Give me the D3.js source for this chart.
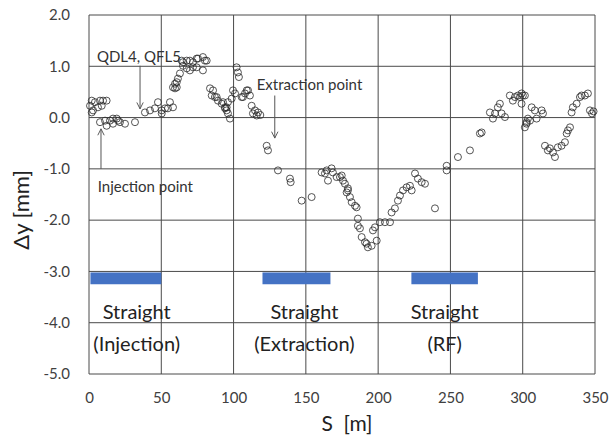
<!DOCTYPE html>
<meta charset="utf-8">
<script src="https://d3js.org/d3.v7.min.js"></script>
<style>
  body { margin: 0; background: #fff; }
  text { font-family: Lato, "Open Sans", sans-serif; }
</style>
<body>
<div id="chart"></div>
<script>
// measured positions S [m] and vertical offsets dy [mm]
var sPos = [0.7,1.9,2.8,1.9,4.1,6.2,7.6,8.8,9.7,12.2,7.6,11.1,14.5,16.6,19.2,20.1,21.4,16.6,12.2,24.9,31.8,
  38.7,42.2,45.6,47.7,50.3,52.6,56.0,54.6,50.3,58.1,
  58.1,59.5,60.7,61.5,62.9,64.1,65.0,65.0,67.6,69.8,71.9,74.5,75.4,78.8,80.2,81.4,71.9,67.6,69.8,74.5,78.8,60.7,59.5,
  83.7,85.8,84.9,87.1,88.3,89.2,91.8,92.7,94.1,95.2,96.1,97.5,95.2,94.1,99.6,101.0,98.7,96.1,102.1,103.0,103.7,
  105.6,106.5,107.9,109.1,110.0,111.3,112.5,114.8,116.0,116.9,113.4,118.5,
  122.9,123.8,130.7,139.0,139.5,147.1,154.0,
  160.9,163.2,164.4,165.3,167.8,168.7,171.3,173.6,174.8,175.7,177.0,179.1,178.2,179.1,180.5,181.7,184.0,185.1,
  186.0,186.0,187.4,188.6,190.9,192.9,192.0,195.5,199.0,196.4,197.8,201.2,204.7,208.2,209.3,211.6,213.7,215.1,
  217.2,219.7,222.0,223.2,225.5,227.5,230.1,232.4,239.3,
  247.4,247.4,255.2,263.5,270.4,271.6,277.3,279.4,280.8,282.8,284.2,285.4,287.7,291.1,293.2,294.6,296.7,298.1,
  299.2,300.1,301.5,299.2,302.7,303.6,306.2,308.4,313.1,314.0,309.6,305.0,302.7,301.5,
  315.4,317.4,318.8,320.9,322.3,324.3,326.9,329.2,330.4,331.3,332.7,
  333.8,334.7,337.3,339.6,340.7,343.0,345.1,346.5,347.9,349.0];
var dyVal = [0.23,0.33,0.14,0.10,0.30,0.20,0.33,0.23,0.33,0.33,-0.09,-0.06,-0.06,-0.02,-0.02,-0.06,-0.09,-0.12,-0.16,-0.12,-0.09,
  0.10,0.14,0.18,0.30,0.14,0.18,0.30,0.18,0.08,0.20,
  0.59,0.66,0.69,0.76,0.86,1.11,1.08,1.01,1.11,1.11,1.08,1.15,1.15,1.18,1.11,1.11,0.98,0.96,0.92,0.98,0.92,0.59,0.57,
  0.57,0.53,0.43,0.40,0.40,0.33,0.27,0.30,0.20,0.14,0.08,-0.02,0.20,0.18,0.53,0.47,0.37,0.30,0.98,0.88,0.79,
  0.40,0.40,0.47,0.53,0.53,0.43,0.23,0.14,0.04,0.10,0.08,0.05,
  -0.55,-0.64,-1.03,-1.19,-1.26,-1.62,-1.55,
  -1.07,-1.09,-1.03,-1.23,-0.99,-1.07,-1.16,-1.16,-1.13,-1.23,-1.29,-1.38,-1.46,-1.42,-1.55,-1.65,-1.72,-1.75,
  -1.97,-2.11,-2.16,-2.33,-2.43,-2.53,-2.46,-2.50,-2.40,-2.20,-2.14,-2.04,-2.04,-2.04,-1.85,-1.77,-1.62,-1.52,
  -1.42,-1.36,-1.33,-1.42,-1.09,-1.19,-1.26,-1.29,-1.77,
  -1.03,-0.94,-0.77,-0.64,-0.31,-0.29,0.10,-0.02,0.08,0.20,0.27,0.08,0.01,0.43,0.33,0.40,0.43,0.40,
  0.47,0.43,0.43,0.27,-0.12,-0.02,0.20,0.14,0.14,0.08,-0.02,-0.06,-0.09,-0.19,
  -0.55,-0.64,-0.60,-0.68,-0.77,-0.58,-0.55,-0.48,-0.31,-0.25,-0.19,
  0.10,0.20,0.27,0.40,0.43,0.43,0.47,0.14,0.08,0.12];

var xTicks = [0, 50, 100, 150, 200, 250, 300, 350];
var yTicks = [2, 1, 0, -1, -2, -3, -4, -5];

// straight sections
var sectStart = [1, 120, 223];
var sectEnd = [50, 167, 269];
var sectLabelAt = [33, 149, 246];
var sectName = ["(Injection)", "(Extraction)", "(RF)"];

// annotations: text position and arrow from/to, in data units
var noteText = ["QDL4, QFL5", "Extraction point", "Injection point"];
var noteX = [5.5, 116, 6];
var noteY = [1.08, 0.54, -1.46];
var arrowX = [35.3, 128.5, 8.3];
var arrowFrom = [1.01, 0.43, -1.0];
var arrowTo = [0.17, -0.40, -0.22];

var margin = {top: 15, right: 16, bottom: 67, left: 89},
    width = 611 - margin.left - margin.right,
    height = 441 - margin.top - margin.bottom;

var svg = d3.select("#chart")
  .append("svg")
    .attr("width", 611)
    .attr("height", 441)
  .append("g")
    .attr("transform", "translate(" + margin.left + "," + margin.top + ")");

var x = d3.scaleLinear().domain([0, 350]).range([0, width]);
var y = d3.scaleLinear().domain([-5, 2]).range([height, 0]);

svg.append("defs").append("marker")
    .attr("id", "arr")
    .attr("viewBox", "0 0 10 10")
    .attr("refX", 9).attr("refY", 5)
    .attr("markerWidth", 8).attr("markerHeight", 8)
    .attr("orient", "auto-start-reverse")
  .append("path")
    .attr("d", "M1,1 L9,5 L1,9")
    .attr("fill", "none")
    .attr("stroke", "#555")
    .attr("stroke-width", 1.2);

// grid
svg.selectAll(".vg").data(xTicks).enter().append("line")
    .attr("x1", function(d) { return x(d); }).attr("x2", function(d) { return x(d); })
    .attr("y1", 0).attr("y2", height)
    .attr("stroke", "#4a4a4a").attr("stroke-width", 1);
svg.selectAll(".hg").data(yTicks).enter().append("line")
    .attr("x1", 0).attr("x2", width)
    .attr("y1", function(d) { return y(d); }).attr("y2", function(d) { return y(d); })
    .attr("stroke", "#4a4a4a").attr("stroke-width", 1);

// axes (labels only)
var xAxis = svg.append("g")
    .attr("transform", "translate(0," + height + ")")
    .call(d3.axisBottom(x).tickValues(xTicks).tickSize(0).tickPadding(18).tickFormat(d3.format("d")));
var yAxis = svg.append("g")
    .call(d3.axisLeft(y).tickValues(yTicks).tickSize(0).tickPadding(19)
      .tickFormat(function(d) { return d.toFixed(1); }));
[xAxis, yAxis].forEach(function(a) {
  a.select(".domain").remove();
  a.selectAll("text").style("font-family", "Lato, sans-serif").style("font-size", "15px").attr("fill", "#404040");
});

// straight section bars
svg.selectAll(".sect").data(sectStart).enter().append("rect")
    .attr("x", function(d) { return x(d); })
    .attr("width", function(d, i) { return x(sectEnd[i]) - x(d); })
    .attr("y", y(-3.02))
    .attr("height", y(-3.25) - y(-3.02))
    .attr("fill", "#4472C4");

svg.selectAll(".sl1").data(sectLabelAt).enter().append("text")
    .attr("x", function(d) { return x(d); })
    .attr("y", y(-3.93))
    .attr("text-anchor", "middle")
    .style("font-size", "20px").attr("fill", "#222")
    .text("Straight");
svg.selectAll(".sl2").data(sectLabelAt).enter().append("text")
    .attr("x", function(d) { return x(d); })
    .attr("y", y(-4.55))
    .attr("text-anchor", "middle")
    .style("font-size", "20px").attr("fill", "#222")
    .text(function(d, i) { return sectName[i]; });

// data points
svg.selectAll(".pt").data(sPos).enter().append("circle")
    .attr("cx", function(d) { return x(d); })
    .attr("cy", function(d, i) { return y(dyVal[i]); })
    .attr("r", 3.5)
    .attr("fill", "none")
    .attr("stroke", "#2a2a2a")
    .attr("stroke-opacity", 0.8)
    .attr("stroke-width", 1);

// annotations
svg.selectAll(".nt").data(noteText).enter().append("text")
    .attr("x", function(d, i) { return x(noteX[i]); })
    .attr("y", function(d, i) { return y(noteY[i]); })
    .style("font-size", "15px").attr("fill", "#333")
    .text(function(d) { return d; });
svg.selectAll(".ar").data(arrowX).enter().append("line")
    .attr("x1", function(d) { return x(d); }).attr("x2", function(d) { return x(d); })
    .attr("y1", function(d, i) { return y(arrowFrom[i]); })
    .attr("y2", function(d, i) { return y(arrowTo[i]); })
    .attr("stroke", "#555").attr("stroke-width", 1)
    .attr("marker-end", "url(#arr)");

// axis titles
svg.append("text")
    .attr("x", width / 2 + 5)
    .attr("y", height + 57)
    .attr("text-anchor", "middle")
    .style("font-size", "21px").style("white-space", "pre").attr("fill", "#222")
    .text("S  [m]");
svg.append("text")
    .attr("transform", "translate(" + (-60) + "," + (y(-1.8)) + ") rotate(-90)")
    .attr("text-anchor", "middle")
    .style("font-size", "22px").attr("fill", "#222")
    .text("Δy [mm]");
</script>
</body>
